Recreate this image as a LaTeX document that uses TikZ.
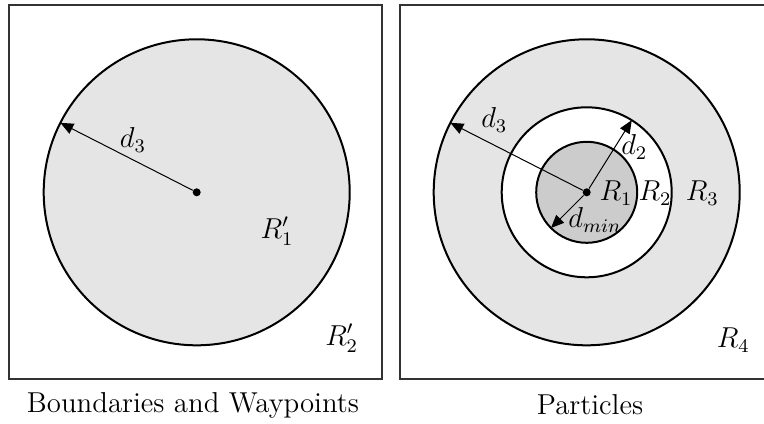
\documentclass[tikz,border=0pt]{standalone}
\usepackage{graphicx}
\usetikzlibrary{arrows.meta}
\newcommand{\bigtxt}[1]{\scalebox{1.2}{\large #1}}
\begin{document}
\begin{tikzpicture}[x=0.5pt,y=-0.5pt,
  frame/.style={draw=black!80,line width=0.6pt},
  ring/.style={circle,draw=black,line width=1pt,inner sep=0pt,outer sep=0pt},
  radius arrow/.style={line width=0.5pt,-{Triangle[length=6.5pt,width=5.5pt]}},
  lbl/.style={inner sep=0pt},
  dot/.style={circle,fill=black,inner sep=0pt,minimum size=4pt}]
\useasboundingbox (0,0) rectangle (764,423);
\begin{scope}
\clip (0,0) rectangle (764,423);
% left panel
\node[frame,draw,minimum width=186.5pt,minimum height=187pt,inner sep=0pt,outer sep=0pt] (boxL) at (195.5,192) {};
\node[ring,fill=black!10,minimum size=153pt] (OL) at (196.7,192.3) {};
\node[dot] (cL) at (196.7,192.3) {};
\draw[radius arrow] (cL) -- (OL.153.4);
\node[lbl] (d3L) at (133,140) {\bigtxt{$d_3$}};
\node[lbl] (R1p) at (277,231) {\bigtxt{$R'_1$}};
\node[lbl] (R2p) at (341.7,338) {\bigtxt{$R'_2$}};
\node[lbl] (capL) at (193,405) {\bigtxt{Boundaries and Waypoints}};
% right panel
\node[frame,draw,minimum width=200pt,minimum height=187pt,inner sep=0pt,outer sep=0pt,anchor=north west] (boxR) at (400,5) {};
\node[ring,fill=black!10,minimum size=153pt] (O3) at (586.7,192.3) {};
\node[ring,fill=white,minimum size=85pt] (O2) at (586.7,192.3) {};
\node[ring,fill=black!20,minimum size=50.5pt] (O1) at (586.7,192.3) {};
\node[dot] (cR) at (586.7,192.3) {};
\draw[radius arrow] (cR) -- (O3.153.4);
\draw[radius arrow] (cR) -- (O2.58);
\draw[radius arrow] (cR) -- (O1.225);
\node[lbl] (d3R) at (494.3,120) {\bigtxt{$d_3$}};
\node[lbl] (d2) at (634.3,147) {\bigtxt{$d_2$}};
\node[lbl] (dmin) at (595,220) {\bigtxt{$d_{min}$}};
\node[lbl] (R1) at (616,193) {\bigtxt{$R_1$}};
\node[lbl] (R2) at (655,193) {\bigtxt{$R_2$}};
\node[lbl] (R3) at (702.3,193) {\bigtxt{$R_3$}};
\node[lbl] (R4) at (733.3,340) {\bigtxt{$R_4$}};
\node[lbl] (capR) at (590,405) {\bigtxt{Particles}};
\end{scope}
\end{tikzpicture}
\end{document}
